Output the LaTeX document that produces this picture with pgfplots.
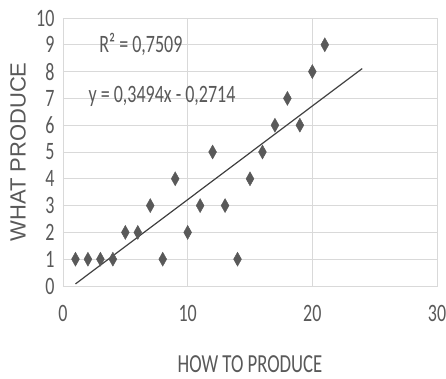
\documentclass[border=0pt]{standalone}
\usepackage{fontspec}
\setmainfont{Carlito}
\newfontfamily\calib[FakeStretch=0.72]{Carlito}
\newfontfamily\arialf{Liberation Sans}
\usepackage{pgfplots}
\pgfplotsset{compat=1.18}
\definecolor{gridgray}{HTML}{D9D9D9}
\definecolor{txtgray}{HTML}{595959}
\definecolor{markgray}{HTML}{595959}
\definecolor{linegray}{HTML}{404040}
\pgfplotstableread{
x y
1 1
2 1
3 1
4 1
5 2
6 2
7 3
8 1
9 4
10 2
11 3
12 5
13 3
14 1
15 4
16 5
17 6
18 7
19 6
20 8
21 9
}\datatable
\begin{document}
\begin{tikzpicture}
\begin{axis}[
 scale only axis, width=374pt, height=268pt,
 xmin=0,xmax=30,ymin=0,ymax=10,
 xtick={0,10,20,30}, ytick={0,1,...,10},
 grid=major, major grid style={gridgray, line width=0.8pt},
 axis line style={gridgray, line width=0.8pt},
 tick style={draw=none},
 ticklabel style={font=\fontsize{25}{30}\selectfont\calib, text=txtgray},
 /pgf/number format/assume math mode=true,
 xticklabel style={yshift=-16pt},
 yticklabel style={xshift=-5pt},
 xlabel={HOW TO PRODUCE}, ylabel={WHAT PRODUCE},
 xlabel style={font=\fontsize{26}{30}\selectfont\calib, text=txtgray, at={(axis description cs:0.5,0)}, anchor=base, yshift=-86pt},
 ylabel style={font=\fontsize{22}{26}\selectfont\arialf, text=txtgray, at={(axis description cs:-0.1203,0.5)}, anchor=center},
 clip=false,
]
\coordinate (bl) at (rel axis cs:0,0);
\coordinate (tr) at (rel axis cs:1,1);
\addplot[linegray, line width=1.2pt, no marks] coordinates {(1,0.0780) (24,8.1142)};
\addplot[only marks, mark=diamond*, mark size=7pt, mark options={fill=markgray, draw=markgray, xscale=0.75}] table[x=x,y=y] {\datatable};
\node[font=\fontsize{25}{30}\selectfont\calib, text=txtgray] at (axis cs:6.25,9.03) {R² = 0,7509};
\node[font=\fontsize{25}{30}\selectfont\calib, text=txtgray] at (axis cs:7.94,7.09) {y = 0,3494x - 0,2714};
\end{axis}
\pgfresetboundingbox
\path ([shift={(-63pt,-93pt)}]bl) rectangle ([shift={(9pt,18pt)}]tr);
\end{tikzpicture}
\end{document}
